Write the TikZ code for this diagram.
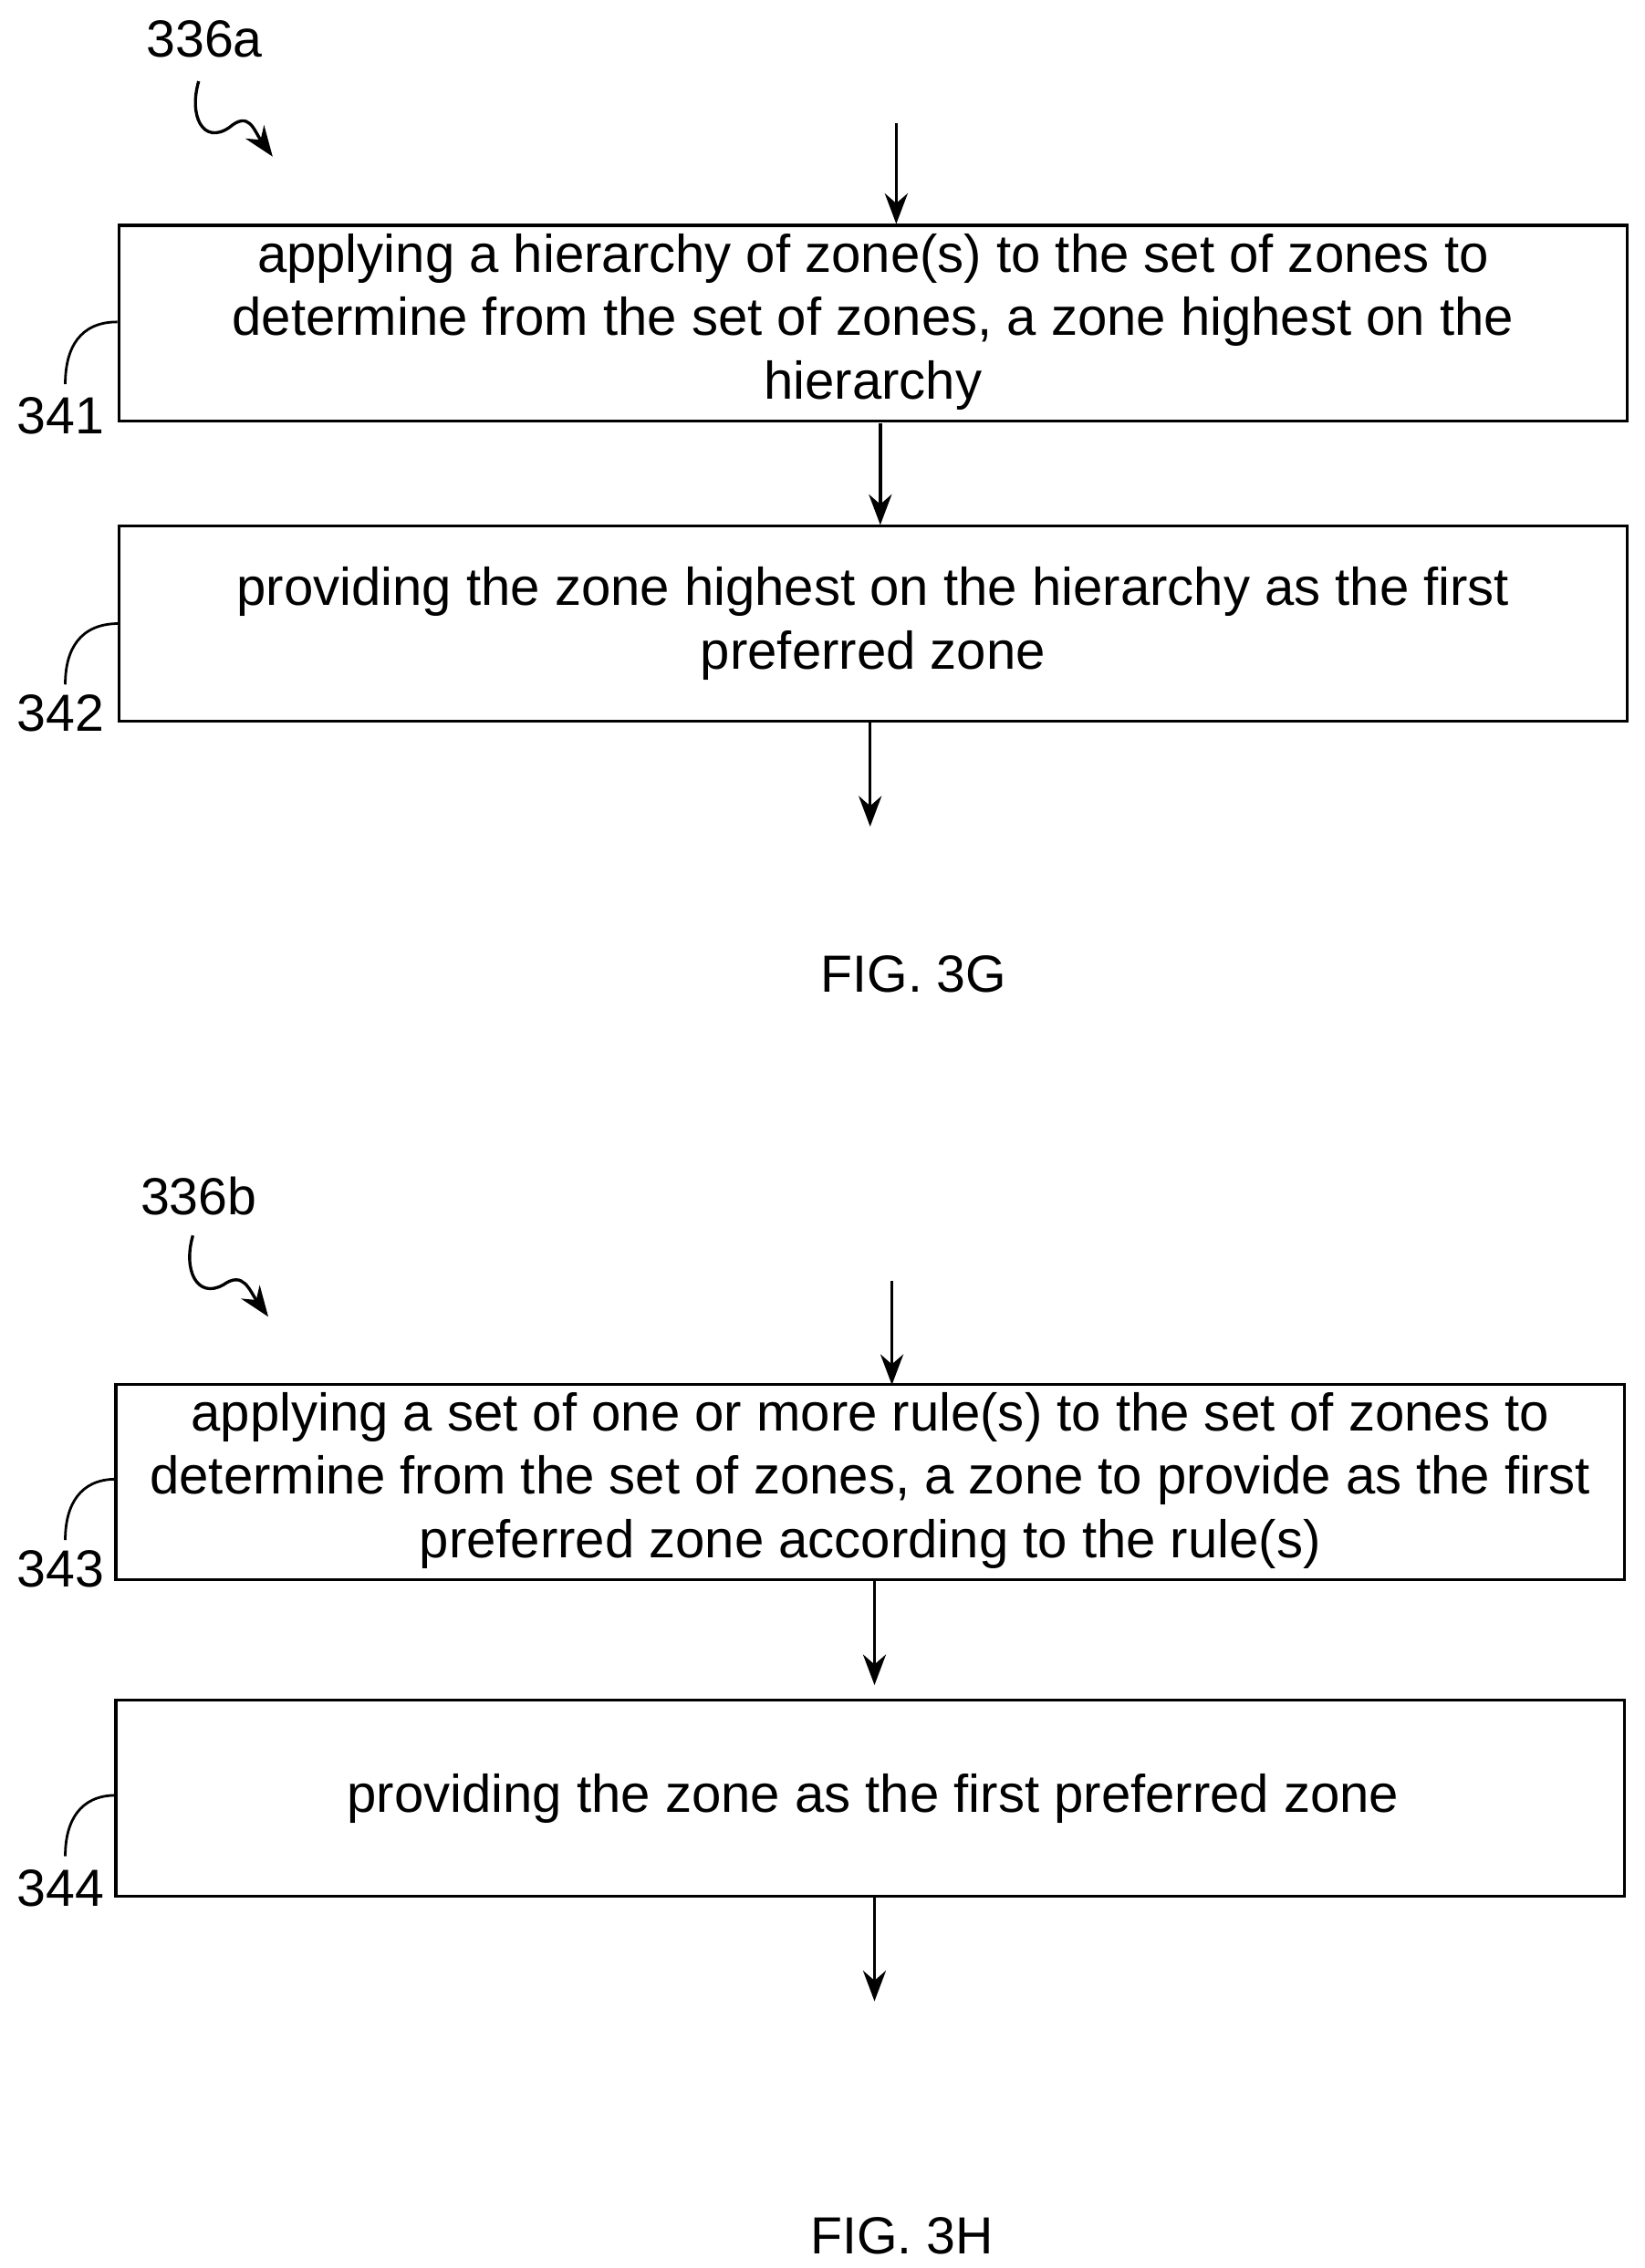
\documentclass[tikz,border=0pt]{standalone}
\usepackage{fontspec}
\setmainfont{Liberation Sans}
\usetikzlibrary{arrows.meta}
\begin{document}
\begin{tikzpicture}[x=0.02cm,y=-0.02cm,
  box/.style={draw,line width=1.2pt,minimum width=1040*0.02cm,minimum height=135*0.02cm,inner sep=0pt},
  txt/.style={font=\fontsize{20.8pt}{24.8pt}\selectfont,align=center},
  lbl/.style={font=\fontsize{20.5pt}{22pt}\selectfont},
  arr/.style={-{Stealth[length=12pt,width=9pt]},line width=1.2pt},
  lead/.style={line width=1pt}]
\useasboundingbox (0,0) rectangle (1134,1564);
% FIG 3G
\node[lbl] (l336a) at (141,27) {336a};
\coordinate (s1a) at (137,56);
\coordinate (s1b) at (188,108);
\draw[arr] (s1a) .. controls (130,80) and (140,100) .. (158,88) .. controls (172,76) and (175,90) .. (s1b);
\coordinate (in1) at (618,85);
\node[box] (b341) at (602,223) {};
\node[txt] at (602,222) {applying a hierarchy of zone(s) to the set of zones to\\determine from the set of zones, a zone highest on the\\hierarchy};
\draw[arr] (in1) -- (in1 |- b341.north);
\node[lbl] (l341) at (42,287) {341};
\draw[lead] (b341.west |- 0,222) .. controls (55,222) and (45,240) .. (45,265);
\node[box] (b342) at (602,430) {};
\node[txt] at (602,430) {providing the zone highest on the hierarchy as the first\\preferred zone};
\draw[arr] (607,292) -- (607,362);
\node[lbl] (l342) at (42,492) {342};
\draw[lead] (82,430) .. controls (55,430) and (45,448) .. (45,472);
\coordinate (out1) at (600,570);
\draw[arr] (600,498) -- (out1);
\node[lbl] (f3g) at (630,672) {FIG. 3G};
% FIG 3H
\node[lbl] (l336b) at (137,825) {336b};
\coordinate (s2a) at (133,852);
\coordinate (s2b) at (185,908);
\draw[arr] (s2a) .. controls (126,876) and (136,896) .. (154,886) .. controls (168,876) and (172,890) .. (s2b);
\coordinate (in2) at (615,883);
\node[box] (b343) at (600,1022) {};
\node[txt] at (600,1021) {applying a set of one or more rule(s) to the set of zones to\\determine from the set of zones, a zone to provide as the first\\preferred zone according to the rule(s)};
\draw[arr] (in2) -- (615,955);
\node[lbl] (l343) at (42,1082) {343};
\draw[lead] (80,1020) .. controls (55,1020) and (45,1038) .. (45,1062);
\node[box] (b344) at (600,1240) {};
\node[txt] at (602,1240) {providing the zone as the first preferred zone};
\draw[arr] (603,1089) -- (603,1162);
\node[lbl] (l344) at (42,1302) {344};
\draw[lead] (80,1238) .. controls (55,1238) and (45,1256) .. (45,1280);
\coordinate (out2) at (603,1380);
\draw[arr] (603,1308) -- (out2);
\node[lbl] (f3h) at (622,1542) {FIG. 3H};
\end{tikzpicture}
\end{document}
